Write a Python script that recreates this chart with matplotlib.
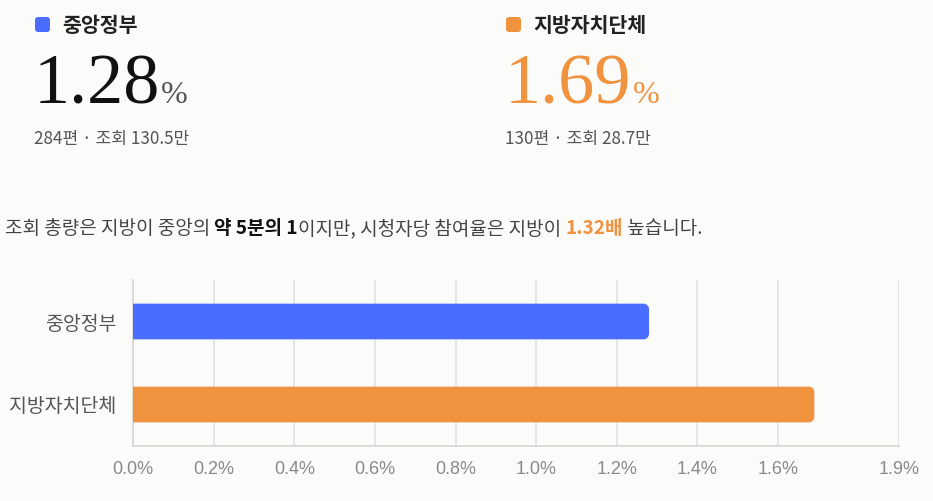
import matplotlib
matplotlib.use("Agg")
import matplotlib.pyplot as plt
from matplotlib.patches import FancyBboxPatch, PathPatch
from matplotlib.path import Path
from matplotlib.transforms import IdentityTransform

plt.rcParams['font.family'] = ['Noto Sans CJK KR', 'DejaVu Sans']

# ---- data ----
categories = ['중앙정부', '지방자치단체']
rates = [1.28, 1.69]
posts = [284, 130]
views_man = [130.5, 28.7]
colors = ['#4a6cff', '#f0923e']
xticks = [0.0, 0.2, 0.4, 0.6, 0.8, 1.0, 1.2, 1.4, 1.6, 1.9]
xtick_labels = ['0.0%', '0.2%', '0.4%', '0.6%', '0.8%', '1.0%', '1.2%', '1.4%', '1.6%', '1.9%']
ratio = 1.32

W, H = 933, 501
BG = '#fbfbf9'
fig = plt.figure(figsize=(W / 100, H / 100), dpi=100, facecolor=BG)


def px(x, y):
    return x / W, 1 - y / H


renderer = fig.canvas.get_renderer()

# ---- header blocks ----
header_x = [34, 505]
for i in range(2):
    x0 = header_x[i]
    sq = FancyBboxPatch((x0 + 1, H - 32), 15, 15,
                        boxstyle="round,pad=0,rounding_size=3",
                        transform=IdentityTransform(), facecolor=colors[i],
                        edgecolor='none', figure=fig)
    fig.patches.append(sq)
    fig.text(*px(x0 + 28, 25), categories[i], fontsize=14.8, fontweight='bold',
             color='#222222', va='center', ha='left')
    num_color = '#111111' if i == 0 else colors[i]
    t = fig.text(*px(x0, 103), f'{rates[i]:.2f}', fontsize=52,
                 family='Liberation Serif', color=num_color, va='baseline', ha='left')
    bb = t.get_window_extent(renderer=renderer)
    pct_color = '#555555' if i == 0 else colors[i]
    fig.text((bb.x1 + 1) / W, 1 - 103 / H, '%', fontsize=23,
             family='Liberation Serif', color=pct_color, va='baseline', ha='left')
    fig.text(*px(x0, 139), f'{posts[i]}편 · 조회 {views_man[i]}만', fontsize=12.3,
             color='#555555', va='center', ha='left')

# ---- sentence with mixed styles ----
parts = [
    ('조회 총량은 지방이 중앙의 ', '#444444', 'normal'),
    ('약 5분의 1', '#111111', 'bold'),
    ('이지만, 시청자당 참여율은 지방이 ', '#444444', 'normal'),
    (f'{ratio:.2f}배', colors[1], 'bold'),
    (' 높습니다.', '#444444', 'normal'),
]
cx = 5
for txt, col, wt in parts:
    t = fig.text(cx / W, 1 - 229 / H, txt, fontsize=13.7, color=col,
                 fontweight=wt, va='center', ha='left')
    bb = t.get_window_extent(renderer=renderer)
    cx = bb.x1

# ---- bar chart ----
ax = fig.add_axes([133 / W, 55 / H, (899 - 133) / W, 166 / H])
ax.set_facecolor(BG)
ypos = list(range(len(categories)))
bar_h = 0.43
rx = 0.0135   # corner radius in x data units (~5.5 px)
ry = 0.068    # corner radius in y data units (~5.5 px)
k = 0.5523    # bezier circle constant


def right_rounded_bar(y, v):
    y0, y1 = y - bar_h / 2, y + bar_h / 2
    verts = [
        (0, y0),
        (v - rx, y0),
        (v - rx + k * rx, y0), (v, y0 + ry - k * ry), (v, y0 + ry),
        (v, y1 - ry),
        (v, y1 - ry + k * ry), (v - rx + k * rx, y1), (v - rx, y1),
        (0, y1),
        (0, y0),
    ]
    codes = [Path.MOVETO, Path.LINETO,
             Path.CURVE4, Path.CURVE4, Path.CURVE4,
             Path.LINETO,
             Path.CURVE4, Path.CURVE4, Path.CURVE4,
             Path.LINETO, Path.CLOSEPOLY]
    return Path(verts, codes)


for y, v, c in zip(ypos, rates, colors):
    ax.add_patch(PathPatch(right_rounded_bar(y, v), facecolor=c,
                           edgecolor='none', zorder=3))

ax.set_xlim(0, 1.9)
ax.set_ylim(1.5, -0.5)
ax.set_yticks(ypos)
ax.set_yticklabels(categories, fontsize=14, color='#555555')
ax.set_xticks(xticks)
ax.set_xticklabels(xtick_labels, fontsize=13, color='#8a8a8a', family='Liberation Sans')
ax.tick_params(axis='both', length=0)
ax.tick_params(axis='x', pad=11)
ax.tick_params(axis='y', pad=12)
ax.grid(axis='x', color='#e3e1dc', linewidth=1.2, zorder=0)
ax.set_axisbelow(True)
for s in ['top', 'right']:
    ax.spines[s].set_visible(False)
for s in ['left', 'bottom']:
    ax.spines[s].set_color('#d8d6d0')
    ax.spines[s].set_linewidth(1.2)

fig.savefig('out.png', dpi=100, facecolor=BG)
